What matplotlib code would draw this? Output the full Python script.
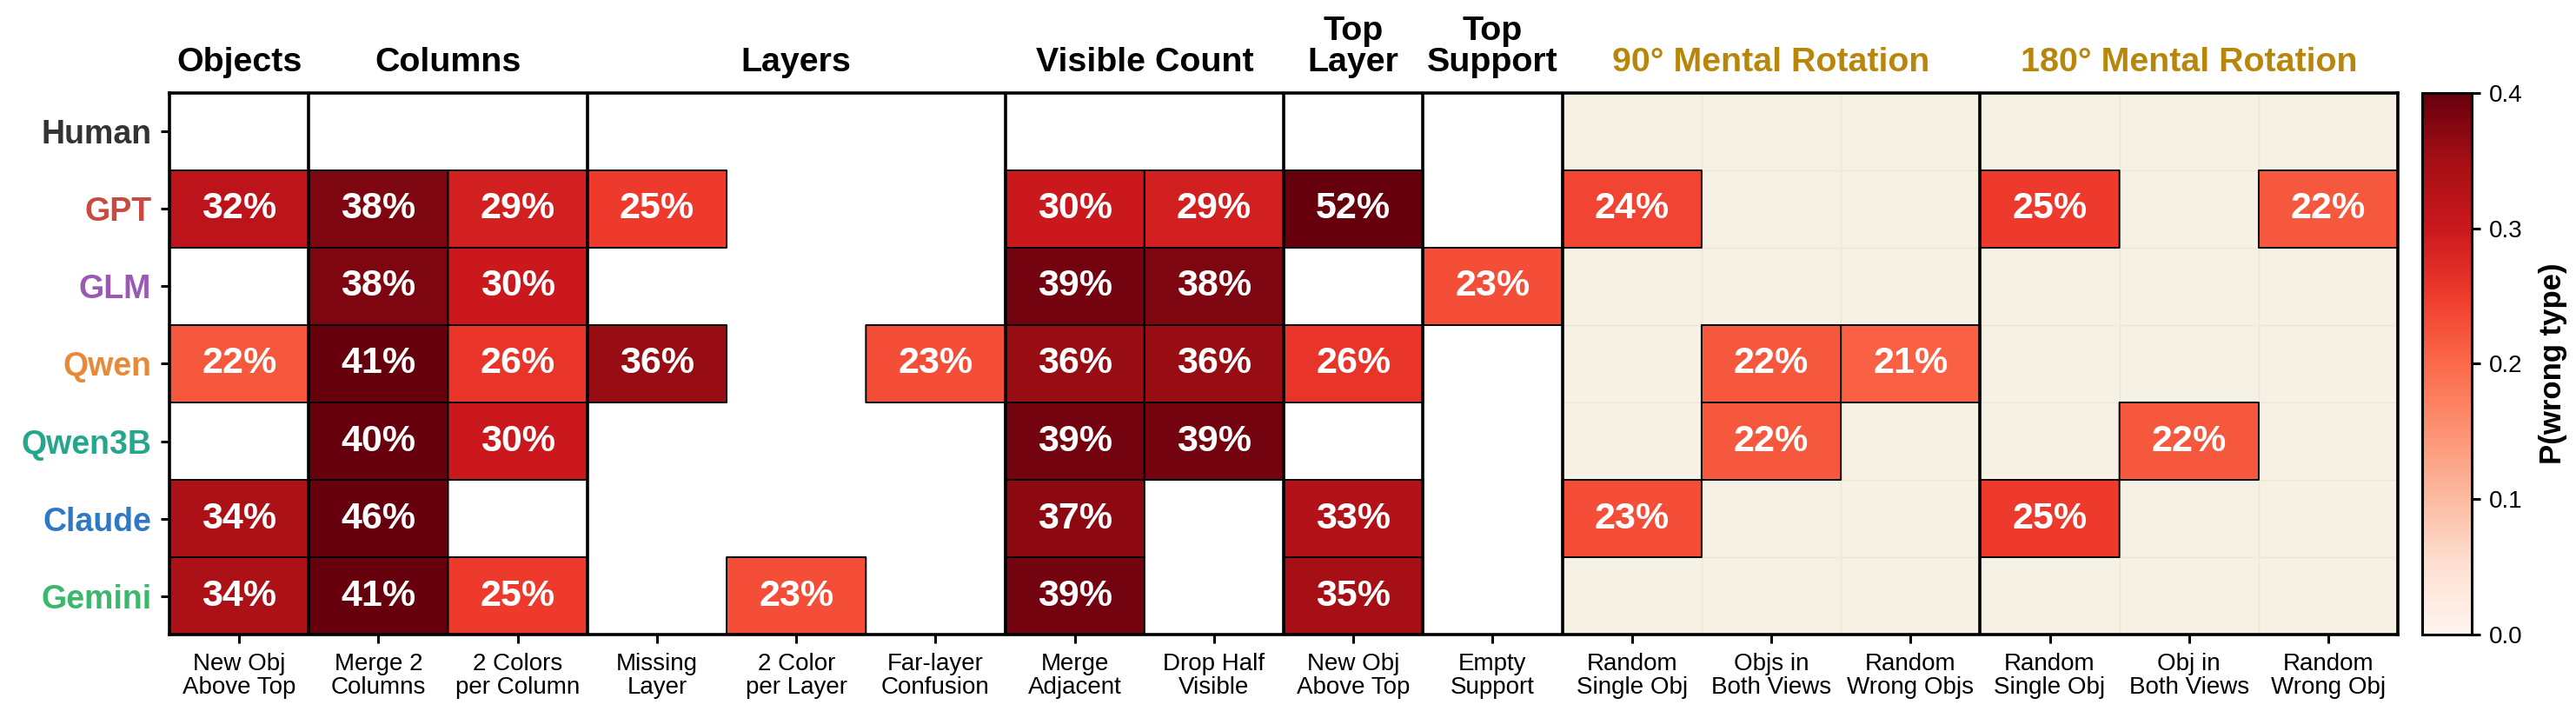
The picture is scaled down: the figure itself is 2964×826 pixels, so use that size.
import numpy as np
import matplotlib
matplotlib.use("Agg")
import matplotlib.pyplot as plt
from matplotlib.patches import Rectangle
from matplotlib.transforms import blended_transform_factory

plt.rcParams['font.family'] = ['Liberation Sans', 'DejaVu Sans']

# data: P(wrong type) per model and error type (nan = not shown)
models = ['Human', 'GPT', 'GLM', 'Qwen', 'Qwen3B', 'Claude', 'Gemini']
model_colors = ['#333333', '#c94a40', '#9b59b6', '#e8893a', '#26a68c', '#2f78c4', '#3bb86b']

error_types = ['New Obj\nAbove Top', 'Merge 2\nColumns', '2 Colors\nper Column',
               'Missing\nLayer', '2 Color\nper Layer', 'Far-layer\nConfusion',
               'Merge\nAdjacent', 'Drop Half\nVisible', 'New Obj\nAbove Top',
               'Empty\nSupport', 'Random\nSingle Obj', 'Objs in\nBoth Views',
               'Random\nWrong Objs', 'Random\nSingle Obj', 'Obj in\nBoth Views',
               'Random\nWrong Obj']

groups = ['Objects', 'Columns', 'Layers', 'Visible Count', 'Top\nLayer',
          'Top\nSupport', '90° Mental Rotation', '180° Mental Rotation']
group_sizes = [1, 2, 3, 2, 1, 1, 3, 3]
group_colors = ['black'] * 6 + ['#b8860b', '#b8860b']

n = np.nan
human  = [n, n, n, n, n, n, n, n, n, n, n, n, n, n, n, n]
gpt    = [.32, .38, .29, .25, n, n, .30, .29, .52, n, .24, n, n, .25, n, .22]
glm    = [n, .38, .30, n, n, n, .39, .38, n, .23, n, n, n, n, n, n]
qwen   = [.22, .41, .26, .36, n, .23, .36, .36, .26, n, n, .22, .21, n, n, n]
qwen3b = [n, .40, .30, n, n, n, .39, .39, n, n, n, .22, n, n, .22, n]
claude = [.34, .46, n, n, n, n, .37, n, .33, n, .23, n, n, .25, n, n]
gemini = [.34, .41, .25, n, .23, n, .39, n, .35, n, n, n, n, n, n, n]

data = np.array([human, gpt, glm, qwen, qwen3b, claude, gemini])
nrows, ncols = data.shape

fig = plt.figure(figsize=(14.82, 4.13), dpi=200)
ax = fig.add_axes([0.0658, 0.1162, 0.8651, 0.7543])
cax = fig.add_axes([0.9403, 0.1162, 0.0192, 0.7543])

# beige background for the mental rotation block
rot_start = sum(group_sizes[:6])
ax.add_patch(Rectangle((rot_start, 0), ncols - rot_start, nrows,
                       facecolor='#f5f1e4', edgecolor='none', zorder=0))
for x in range(rot_start + 1, ncols):
    ax.plot([x, x], [0, nrows], color='#eee8d3', lw=0.5, zorder=0.5)
for y in range(1, nrows):
    ax.plot([rot_start, ncols], [y, y], color='#eee8d3', lw=0.5, zorder=0.5)

mesh = ax.pcolor(np.ma.masked_invalid(data), cmap='Reds', vmin=0, vmax=0.4,
                 edgecolors='black', linewidths=0.7, zorder=1)

for i in range(nrows):
    for j in range(ncols):
        v = data[i, j]
        if not np.isnan(v):
            ax.text(j + 0.5, i + 0.5, f'{v*100:.0f}%', ha='center', va='center',
                    color='white', fontsize=15.5, fontweight='bold', zorder=3)

# group dividers and titles
bounds = np.cumsum(group_sizes)
for b in bounds[:-1]:
    ax.axvline(b, color='black', lw=1.3, zorder=2)

trans = blended_transform_factory(ax.transData, ax.transAxes)
start = 0
for g, size, c in zip(groups, group_sizes, group_colors):
    ax.text(start + size / 2, 1.027, g, transform=trans, ha='center', va='bottom',
            fontsize=14.2, fontweight='bold', color=c, linespacing=1.0)
    start += size

ax.set_xlim(0, ncols)
ax.set_ylim(nrows, 0)
ax.set_xticks(np.arange(ncols) + 0.5)
ax.set_xticklabels(error_types, fontsize=10, linespacing=1.05)
ax.set_yticks(np.arange(nrows) + 0.5)
ax.set_yticklabels(models, fontsize=13.5, fontweight='bold')
for lbl, c in zip(ax.get_yticklabels(), model_colors):
    lbl.set_color(c)
ax.tick_params(axis='both', length=3.5, width=1.1, pad=4)
for s in ax.spines.values():
    s.set_linewidth(1.3)

cb = fig.colorbar(mesh, cax=cax)
cb.set_ticks([0.0, 0.1, 0.2, 0.3, 0.4])
cb.ax.tick_params(labelsize=10, length=3.5, width=1.1)
cb.outline.set_linewidth(1.1)
cb.set_label('P(wrong type)', fontsize=12.5, fontweight='bold', labelpad=7)

fig.savefig('out.png', dpi=200)
